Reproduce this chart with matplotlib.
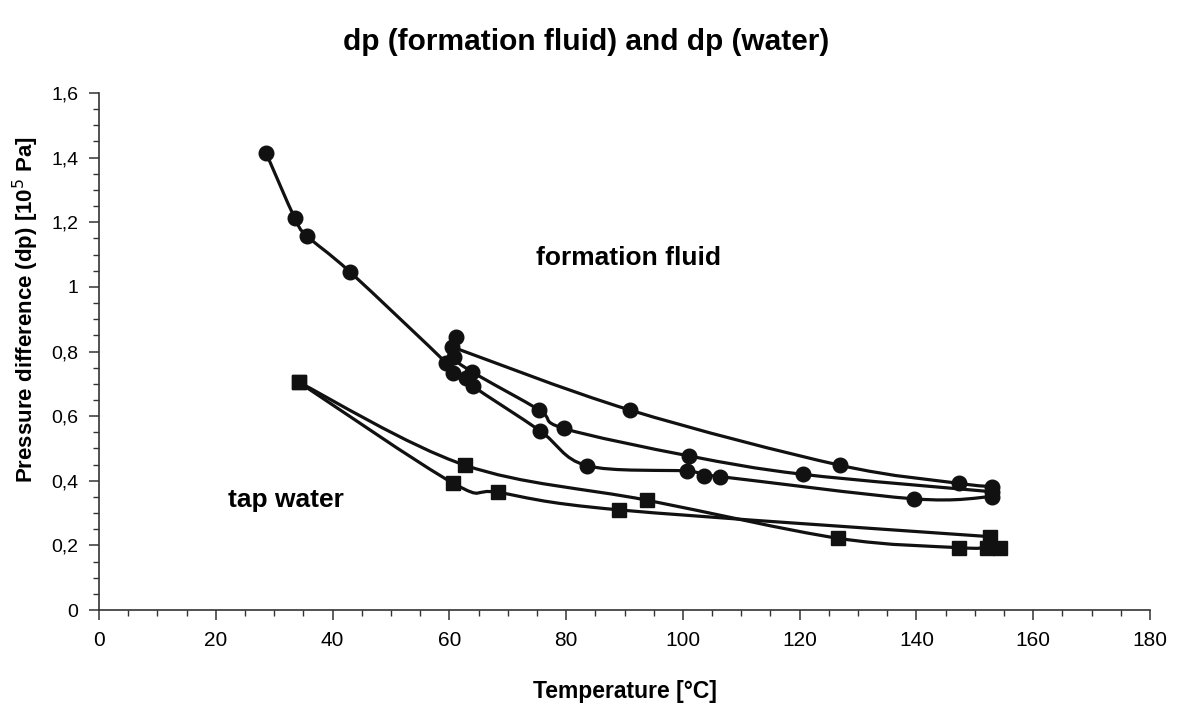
import numpy as np
import matplotlib
matplotlib.use('Agg')
from matplotlib import pyplot as plt
from matplotlib.path import Path
from matplotlib.patches import PathPatch
from matplotlib.ticker import MultipleLocator, FuncFormatter

plt.rcParams['font.family'] = ['Liberation Sans', 'DejaVu Sans']

# formation fluid - heating from room temperature
ff_heat_x = [28.6, 33.5, 35.6, 43.0, 59.5, 60.6, 62.9, 64.0, 75.5, 83.5, 100.7, 103.6, 106.3, 139.6, 152.9]
ff_heat_y = [1.415, 1.214, 1.158, 1.046, 0.764, 0.733, 0.717, 0.693, 0.555, 0.447, 0.430, 0.416, 0.413, 0.344, 0.351]

# formation fluid - second run
ff_mid_x = [61.1, 60.8, 63.8, 75.4, 79.6, 101.0, 120.5, 152.9]
ff_mid_y = [0.846, 0.784, 0.738, 0.619, 0.562, 0.477, 0.420, 0.366]

# formation fluid - upper run
ff_top_x = [60.5, 90.9, 126.9, 147.3, 152.9]
ff_top_y = [0.814, 0.619, 0.448, 0.392, 0.382]

# tap water
w_a_x = [34.2, 62.7, 93.8, 126.6, 147.3, 152.0, 154.3]
w_a_y = [0.705, 0.448, 0.340, 0.222, 0.193, 0.193, 0.193]
w_b_x = [34.2, 60.7, 68.4, 89.0, 152.6]
w_b_y = [0.705, 0.392, 0.364, 0.310, 0.227]


def smooth_path(xs, ys):
    # Excel-like smoothed line (Catmull-Rom as cubic Bezier)
    pts = np.column_stack([xs, ys]).astype(float)
    verts = [pts[0]]
    codes = [Path.MOVETO]
    n = len(pts)
    for i in range(n - 1):
        p0 = pts[i - 1] if i > 0 else pts[i]
        p1 = pts[i]
        p2 = pts[i + 1]
        p3 = pts[i + 2] if i + 2 < n else p2
        verts += [p1 + (p2 - p0) / 6, p2 - (p3 - p1) / 6, p2]
        codes += [Path.CURVE4] * 3
    return Path(verts, codes)


fig = plt.figure(figsize=(11.8, 7.04), dpi=100)
ax = fig.add_axes([0.0839, 0.1335, 0.8907, 0.7344])

for xs, ys, mk, ms in [(ff_heat_x, ff_heat_y, 'o', 10.5),
                       (ff_mid_x, ff_mid_y, 'o', 10.5),
                       (ff_top_x, ff_top_y, 'o', 10.5),
                       (w_a_x, w_a_y, 's', 9.5),
                       (w_b_x, w_b_y, 's', 9.5)]:
    ax.add_patch(PathPatch(smooth_path(xs, ys), facecolor='none', edgecolor='#111111', lw=2.3))
    ax.plot(xs, ys, linestyle='none', marker=mk, markersize=ms, color='#111111')

ax.set_xlim(0, 180)
ax.set_ylim(0, 1.6)
ax.xaxis.set_major_locator(MultipleLocator(20))
ax.xaxis.set_minor_locator(MultipleLocator(5))
ax.yaxis.set_major_locator(MultipleLocator(0.2))
ax.yaxis.set_minor_locator(MultipleLocator(0.05))
ax.yaxis.set_major_formatter(FuncFormatter(lambda v, p: ('%g' % round(v, 1)).replace('.', ',')))

for s in ['top', 'right']:
    ax.spines[s].set_visible(False)
for s in ['left', 'bottom']:
    ax.spines[s].set_linewidth(1.2)
    ax.spines[s].set_color('#333333')

ax.tick_params(which='major', length=7, width=1.1, color='#333333', labelsize=14, pad=8)
ax.tick_params(which='minor', length=4, width=1.0, color='#333333')
for lbl in ax.get_xticklabels():
    lbl.set_family(['Liberation Sans Narrow', 'Liberation Sans'])
    lbl.set_fontsize(15)

ax.set_xlabel('Temperature [°C]', fontsize=16.5, fontweight='bold',
              family=['Liberation Sans Narrow', 'Liberation Sans'], labelpad=22)
ax.set_ylabel('Pressure difference (dp) [10$^5$ Pa]', fontsize=16, fontweight='bold')
ax.yaxis.set_label_coords(-0.055, 0.58)

ax.text(90.6, 1.09, 'formation fluid', fontsize=19, fontweight='bold', ha='center', va='center')
ax.text(32, 0.34, 'tap water', fontsize=19, fontweight='bold', ha='center', va='center')

fig.text(0.497, 0.94, 'dp (formation fluid) and dp (water)', fontsize=21.5, fontweight='bold',
         ha='center', va='center')

fig.savefig('out.png', dpi=100, facecolor='white')
